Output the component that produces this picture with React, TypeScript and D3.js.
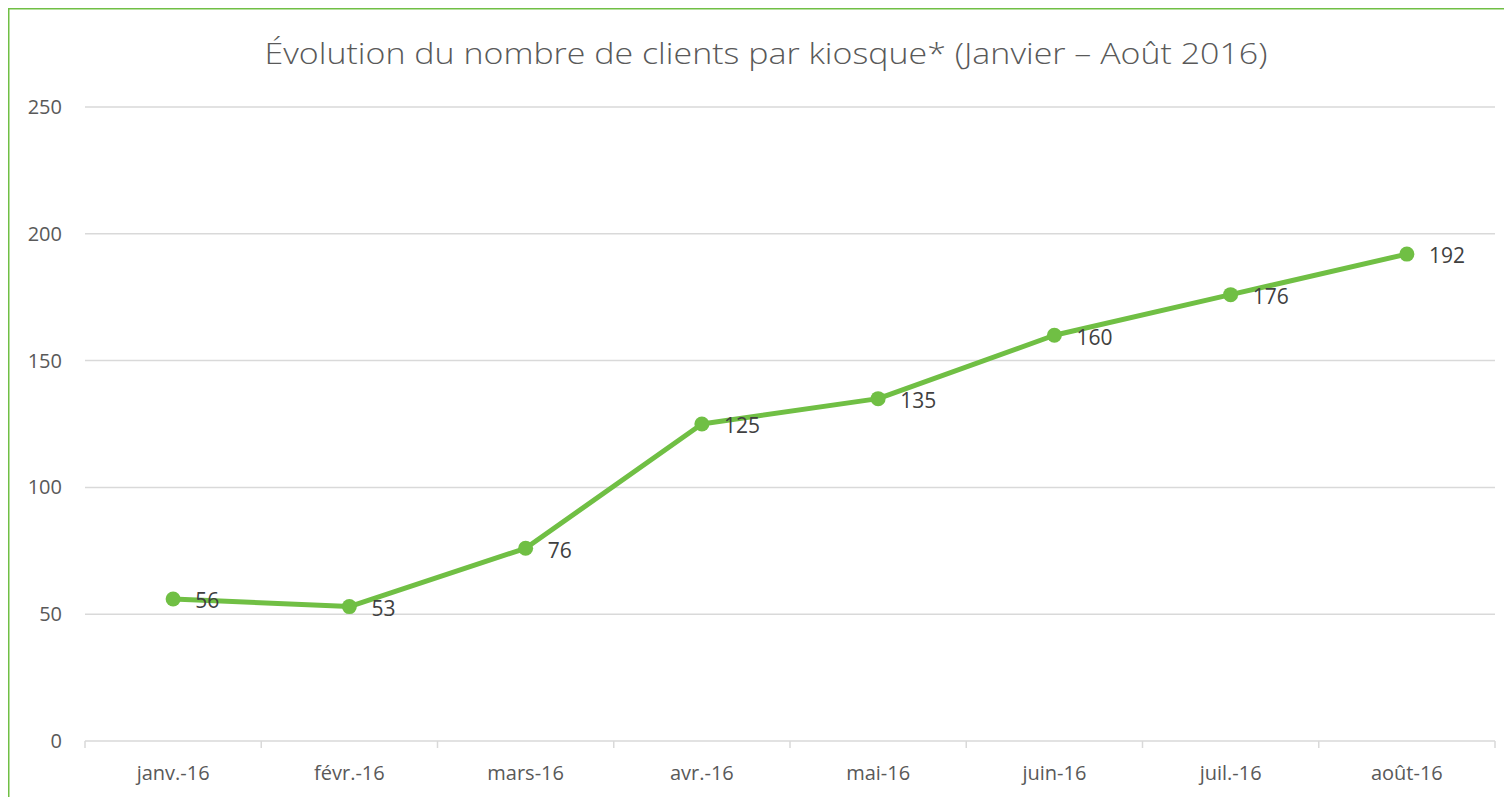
import React from "react";
import * as d3 from "d3";

const categories = ["janv.-16", "févr.-16", "mars-16", "avr.-16", "mai-16", "juin-16", "juil.-16", "août-16"];
const clients = [56, 53, 76, 125, 135, 160, 176, 192];
const yTicks = [0, 50, 100, 150, 200, 250];
const title = "Évolution du nombre de clients par kiosque* (Janvier – Août 2016)";

const W = 1520;
const H = 800;
const plotLeft = 77;
const plotRight = 1487;
const plotTop = 99;
const plotBottom = 733;
const green = "#70bf44";
const font = "'Open Sans', 'Noto Sans', sans-serif";

export default function App() {
  const x = d3.scaleBand<string>().domain(categories).range([plotLeft, plotRight]);
  const y = d3.scaleLinear().domain([0, 250]).range([plotBottom, plotTop]);
  const line = d3
    .line<number>()
    .x((_, i) => (x(categories[i]) as number) + x.bandwidth() / 2)
    .y((d) => y(d));
  const boundaries = categories.map((c) => x(c) as number).concat([plotRight]);

  return (
    <svg width={W} height={H} style={{ display: "block", overflow: "visible" }} fontFamily={font}>
      <rect x={0.75} y={0.75} width={W} height={H} fill="white" stroke={green} strokeWidth={1.5} />
      <text x={758} y={56} textAnchor="middle" fontSize={29} fontWeight={300} fill="#595959" textLength={1003} lengthAdjust="spacingAndGlyphs">
        {title}
      </text>
      {yTicks.map((t) => (
        <g key={t}>
          <line x1={plotLeft} x2={plotRight} y1={y(t)} y2={y(t)} stroke="#d9d9d9" strokeWidth={1.5} />
          <text x={54} y={y(t)} dy="0.35em" textAnchor="end" fontSize={20} fill="#595959">
            {t}
          </text>
        </g>
      ))}
      {boundaries.map((b, i) => (
        <line key={i} x1={b} x2={b} y1={plotBottom} y2={plotBottom + 7} stroke="#d9d9d9" strokeWidth={1.5} />
      ))}
      {categories.map((c) => (
        <text key={c} x={(x(c) as number) + x.bandwidth() / 2} y={765} dy="0.35em" textAnchor="middle" fontSize={20} fill="#595959">
          {c}
        </text>
      ))}
      <path d={line(clients) || ""} fill="none" stroke={green} strokeWidth={5} strokeLinejoin="round" />
      {clients.map((v, i) => {
        const cx = (x(categories[i]) as number) + x.bandwidth() / 2;
        return (
          <g key={i}>
            <circle cx={cx} cy={y(v)} r={7.5} fill={green} />
            <text x={cx + 22} y={y(v) + 2} dy="0.35em" fontSize={21} fill="#404040">
              {v}
            </text>
          </g>
        );
      })}
    </svg>
  );
}
